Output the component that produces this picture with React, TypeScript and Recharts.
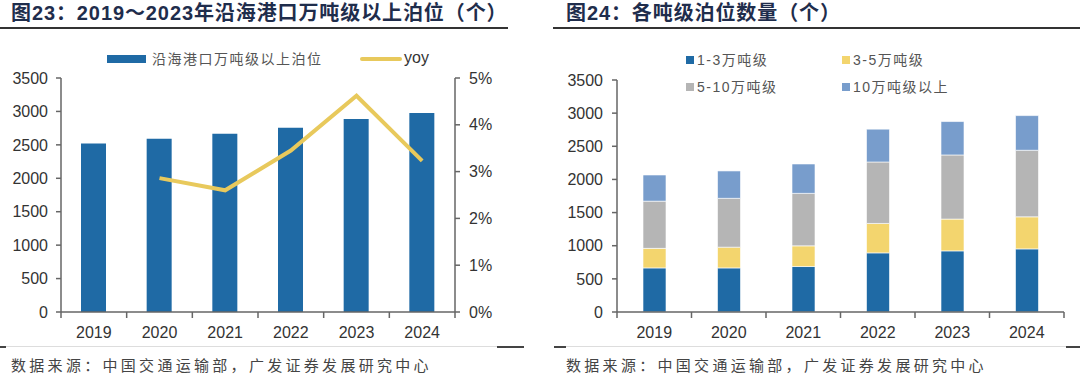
import React from 'react';
import {
  ComposedChart,
  BarChart,
  Bar,
  Line,
  XAxis,
  YAxis,
} from 'recharts';

// 图23 data
const years = ['2019', '2020', '2021', '2022', '2023', '2024'];
const berths = [2520, 2590, 2665, 2755, 2885, 2975];
const yoy = [null, 2.86, 2.6, 3.45, 4.62, 3.23];
const leftTicks = [0, 500, 1000, 1500, 2000, 2500, 3000, 3500];
const rightTicks = [0, 1, 2, 3, 4, 5];

// 图24 data
const tier1to3 = [665, 665, 686, 892, 922, 952];
const tier3to5 = [295, 313, 312, 444, 480, 484];
const tier5to10 = [712, 737, 792, 927, 967, 1004];
const tier10plus = [395, 413, 443, 495, 504, 523];

const berthData = years.map((y, i) => ({ year: y, berths: berths[i], yoy: yoy[i] }));
const tierData = years.map((y, i) => ({
  year: y,
  t1: tier1to3[i],
  t2: tier3to5[i],
  t3: tier5to10[i],
  t4: tier10plus[i],
}));

const AXIS = '#666666';
const NUM_FONT = '"Liberation Sans", Arial, sans-serif';
const CJK_FONT = '"Liberation Sans", "Noto Sans CJK SC", sans-serif';
const BLUE = '#1f6aa5';
const YELLOW_LINE = '#e8c95c';
const YELLOW = '#f3d56e';
const GRAY = '#b5b5b5';
const LIGHT_BLUE = '#789dcc';

// x tick: label centred in band, tick mark on band boundaries (Excel style)
const BandTick = (props: any) => {
  const { x, y, payload, index, visibleTicksCount } = props;
  const half = payload.offset || 0;
  const last = index === (visibleTicksCount ?? 6) - 1;
  return (
    <g>
      <line x1={x - half} x2={x - half} y1={y} y2={y + 6} stroke={AXIS} strokeWidth={1.5} />
      {last && <line x1={x + half} x2={x + half} y1={y} y2={y + 6} stroke={AXIS} strokeWidth={1.5} />}
      <text x={x} y={y + 26} textAnchor="middle" fill="#333" fontSize={16} fontFamily={NUM_FONT}>
        {payload.value}
      </text>
    </g>
  );
};

const titleStyle: React.CSSProperties = {
  position: 'absolute',
  top: 0,
  fontSize: 20,
  fontWeight: 700,
  color: '#1f2d4c',
  fontFamily: CJK_FONT,
  lineHeight: '26px',
  whiteSpace: 'nowrap',
  letterSpacing: 0.9,
};

const sourceStyle: React.CSSProperties = {
  position: 'absolute',
  top: 355,
  fontSize: 15,
  letterSpacing: 3.3,
  color: '#444',
  fontFamily: '"Noto Sans CJK SC", sans-serif',
  lineHeight: '20px',
  whiteSpace: 'nowrap',
};

const legendText: React.CSSProperties = {
  position: 'absolute',
  fontSize: 14,
  color: '#555',
  fontFamily: CJK_FONT,
  lineHeight: '18px',
  whiteSpace: 'nowrap',
  letterSpacing: 1.5,
};

const sq = (left: number, top: number, color: string) => (
  <div style={{ position: 'absolute', left, top, width: 8, height: 8, background: color }} />
);

export default function App() {
  return (
    <div style={{ position: 'absolute', left: 0, top: 0, width: 1080, height: 379, background: '#fff', overflow: 'hidden' }}>
      {/* titles */}
      <div style={{ ...titleStyle, left: 11 }}>图23：2019～2023年沿海港口万吨级以上泊位（个）</div>
      <div style={{ position: 'absolute', left: 0, top: 27, width: 508, height: 2, background: '#333' }} />
      <div style={{ ...titleStyle, left: 566 }}>图24：各吨级泊位数量（个）</div>
      <div style={{ position: 'absolute', left: 553, top: 27, width: 527, height: 2, background: '#333' }} />

      {/* left chart */}
      <div style={{ position: 'absolute', left: 0, top: 0 }}>
        <ComposedChart
          width={540}
          height={379}
          data={berthData}
          margin={{ top: 78, right: 40, bottom: 42, left: 11 }}
          barCategoryGap={0}
        >
          <XAxis
            dataKey="year"
            xAxisId="x"
            axisLine={{ stroke: AXIS, strokeWidth: 1.5 }}
            tickLine={false}
            tickSize={0}
            tickMargin={0}
            height={25}
            interval={0}
            tick={<BandTick />}
          />
          <YAxis
            yAxisId="left"
            domain={[0, 3500]}
            ticks={leftTicks}
            interval={0}
            width={50}
            axisLine={{ stroke: AXIS, strokeWidth: 1.5 }}
            tickLine={{ stroke: AXIS, strokeWidth: 1.5 }}
            tickSize={5}
            tickMargin={8}
            tick={{ fill: '#333', fontSize: 16, fontFamily: NUM_FONT }}
          />
          <YAxis
            yAxisId="right"
            orientation="right"
            domain={[0, 5]}
            ticks={rightTicks}
            interval={0}
            width={45}
            axisLine={{ stroke: AXIS, strokeWidth: 1.5 }}
            tickLine={{ stroke: AXIS, strokeWidth: 1.5 }}
            tickSize={5}
            tickMargin={9}
            tickFormatter={(v) => `${v}%`}
            tick={{ fill: '#333', fontSize: 16, fontFamily: NUM_FONT }}
          />
          <Bar xAxisId="x" yAxisId="left" dataKey="berths" fill={BLUE} barSize={25} isAnimationActive={false} />
          <Line
            xAxisId="x"
            yAxisId="right"
            dataKey="yoy"
            stroke={YELLOW_LINE}
            strokeWidth={4}
            dot={false}
            connectNulls={false}
            isAnimationActive={false}
          />
        </ComposedChart>
      </div>

      {/* left legend */}
      <div style={{ position: 'absolute', left: 107, top: 55, width: 39, height: 8, background: BLUE }} />
      <div style={{ ...legendText, left: 152, top: 50 }}>沿海港口万吨级以上泊位</div>
      <div style={{ position: 'absolute', left: 360, top: 57, width: 42, height: 4, background: YELLOW_LINE, borderRadius: 2 }} />
      <div style={{ ...legendText, left: 404, top: 49, fontSize: 16, letterSpacing: 0, color: '#333' }}>yoy</div>

      {/* right chart */}
      <div style={{ position: 'absolute', left: 540, top: 0 }}>
        <BarChart
          width={540}
          height={379}
          data={tierData}
          margin={{ top: 80, right: 16, bottom: 42, left: 27 }}
        >
          <XAxis
            dataKey="year"
            axisLine={{ stroke: AXIS, strokeWidth: 1.5 }}
            tickLine={false}
            tickSize={0}
            tickMargin={0}
            height={25}
            interval={0}
            tick={<BandTick />}
          />
          <YAxis
            domain={[0, 3500]}
            ticks={leftTicks}
            interval={0}
            width={50}
            axisLine={{ stroke: AXIS, strokeWidth: 1.5 }}
            tickLine={{ stroke: AXIS, strokeWidth: 1.5 }}
            tickSize={5}
            tickMargin={9}
            tick={{ fill: '#333', fontSize: 16, fontFamily: NUM_FONT }}
          />
          <Bar dataKey="t1" stackId="s" fill={BLUE} stroke="#fff" strokeWidth={0.6} barSize={23} isAnimationActive={false} />
          <Bar dataKey="t2" stackId="s" fill={YELLOW} stroke="#fff" strokeWidth={0.6} barSize={23} isAnimationActive={false} />
          <Bar dataKey="t3" stackId="s" fill={GRAY} stroke="#fff" strokeWidth={0.6} barSize={23} isAnimationActive={false} />
          <Bar dataKey="t4" stackId="s" fill={LIGHT_BLUE} stroke="#fff" strokeWidth={0.6} barSize={23} isAnimationActive={false} />
        </BarChart>
      </div>

      {/* right legend */}
      {sq(686, 56, BLUE)}
      <div style={{ ...legendText, left: 697, top: 51 }}>1-3万吨级</div>
      {sq(842, 56, YELLOW)}
      <div style={{ ...legendText, left: 853, top: 51 }}>3-5万吨级</div>
      {sq(686, 83, GRAY)}
      <div style={{ ...legendText, left: 697, top: 78 }}>5-10万吨级</div>
      {sq(842, 83, LIGHT_BLUE)}
      <div style={{ ...legendText, left: 853, top: 78 }}>10万吨级以上</div>

      {/* bottom rules */}
      <div style={{ position: 'absolute', left: 0, top: 346, width: 524, height: 1, background: '#ddd' }} />
      <div style={{ position: 'absolute', left: 0, top: 346, width: 6, height: 2, background: '#444' }} />
      <div style={{ position: 'absolute', left: 497, top: 346, width: 27, height: 2, background: '#444' }} />
      <div style={{ position: 'absolute', left: 554, top: 346, width: 526, height: 1, background: '#ddd' }} />
      <div style={{ position: 'absolute', left: 554, top: 346, width: 12, height: 2, background: '#444' }} />
      <div style={{ position: 'absolute', left: 1066, top: 346, width: 14, height: 2, background: '#444' }} />

      {/* sources */}
      <div style={{ ...sourceStyle, left: 11 }}>数据来源：中国交通运输部，广发证券发展研究中心</div>
      <div style={{ ...sourceStyle, left: 566 }}>数据来源：中国交通运输部，广发证券发展研究中心</div>
    </div>
  );
}
